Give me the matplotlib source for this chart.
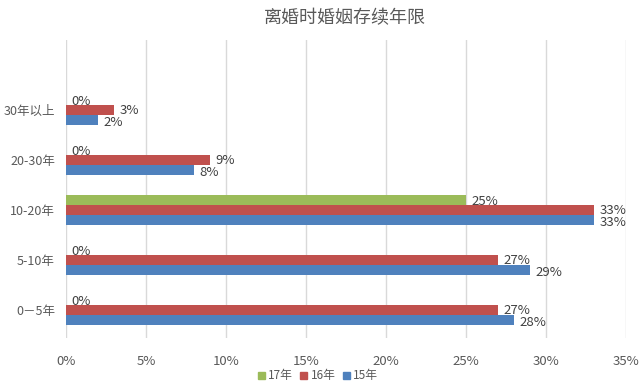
import numpy as np
import matplotlib
matplotlib.use('Agg')
import matplotlib.pyplot as plt
from matplotlib.patches import Patch

plt.rcParams['font.family'] = ['Noto Sans CJK SC', 'DejaVu Sans']

categories = ['0－5年', '5-10年', '10-20年', '20-30年', '30年以上']
y17 = [0, 0, 25, 0, 0]
y16 = [27, 27, 33, 9, 3]
y15 = [28, 29, 33, 8, 2]
xticks = [0, 5, 10, 15, 20, 25, 30, 35]

c17 = '#9BBB59'
c16 = '#C0504D'
c15 = '#4F81BD'
txt = '#595959'

fig = plt.figure(figsize=(6.4, 3.9), dpi=100)
ax = fig.add_axes([66/640, 1-338/390, 560/640, (338-40)/390])

y = np.arange(len(categories))
h = 0.2
series = [(y17, c17, h, -1), (y16, c16, 0, 0), (y15, c15, -h, -2)]
for vals, col, off, dy in series:
    ax.barh(y + off, vals, height=h, color=col, zorder=3)
    for yi, v in zip(y, vals):
        ax.annotate('%d%%' % v, (v, yi + off), xytext=(4, dy), textcoords='offset points',
                    ha='left', va='center', fontsize=9.5, color='#404040', zorder=4)

ax.set_xlim(0, 35)
ax.set_ylim(-0.56, 5.4)
ax.set_xticks(xticks)
ax.set_xticklabels(['%d%%' % t for t in xticks])
ax.set_yticks(y)
ax.set_yticklabels(categories)
ax.tick_params(axis='x', length=0, pad=12, labelsize=9.5, colors=txt)
ax.tick_params(axis='y', length=0, pad=8, labelsize=9, colors=txt)
ax.grid(axis='x', color='#d9d9d9', linewidth=1, zorder=0)
for s in ax.spines.values():
    s.set_visible(False)

fig.text(345/640, 1-18/390, '离婚时婚姻存续年限', ha='center', va='center',
         fontsize=13, color=txt)

handles = [Patch(color=c17, label='17年'), Patch(color=c16, label='16年'),
           Patch(color=c15, label='15年')]
fig.legend(handles=handles, loc='center', bbox_to_anchor=(318/640, 1-376/390), ncol=3,
           frameon=False, fontsize=8.5, handlelength=0.6, handleheight=0.6,
           handletextpad=0.3, columnspacing=0.6, labelcolor=txt)

fig.savefig('out.png', dpi=100)
